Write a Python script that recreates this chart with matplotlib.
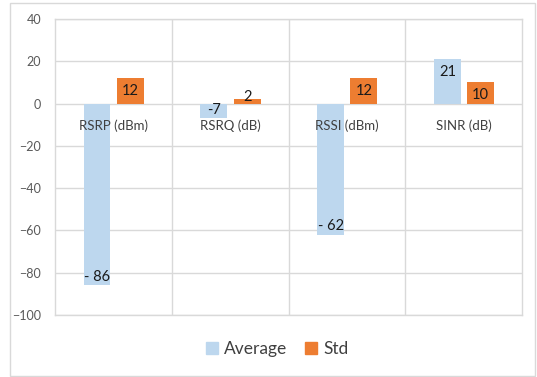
import matplotlib.pyplot as plt
from matplotlib.patches import Rectangle, Patch
import numpy as np

plt.rcParams['font.family'] = ['Lato', 'DejaVu Sans']

# data
categories = ['RSRP (dBm)', 'RSRQ (dB)', 'RSSI (dBm)', 'SINR (dB)']
average = [-86, -7, -62, 21]
std = [12, 2, 12, 10]
average_labels = ['- 86', '-7', '- 62', '21']
std_labels = ['12', '2', '12', '10']

blue = '#BDD7EE'
orange = '#ED7D31'
grid_c = '#D9D9D9'

fig = plt.figure(figsize=(5.37, 3.77), dpi=100)
ax = fig.add_axes([0.1024, 0.1645, 0.870, 0.785])

# outer chart frame
fig.patches.append(Rectangle((0.0186, 0.003), 0.977, 0.989, transform=fig.transFigure,
                             fill=False, edgecolor='#D9D9D9', linewidth=1))

x = np.arange(len(categories))
w = 0.23
ax.bar(x - 0.14, average, w, color=blue, zorder=2)
ax.bar(x + 0.145, std, w, color=orange, zorder=2)

ax.set_xlim(-0.5, 3.5)
ax.set_ylim(-100, 40)
ax.set_yticks(np.arange(-100, 41, 20))
ax.set_xticks([])
ax.set_xticks(x[:-1] + 0.5, minor=True)
ax.grid(axis='y', color=grid_c, linewidth=1, zorder=0)
ax.grid(axis='x', which='minor', color=grid_c, linewidth=1, zorder=0)
ax.tick_params(axis='y', length=0, pad=10, labelsize=9, labelcolor='#595959')
ax.tick_params(axis='x', which='both', length=0)
for s in ax.spines.values():
    s.set_color(grid_c)
    s.set_linewidth(1)

# category names just under the zero line
for i, name in enumerate(categories):
    ax.annotate(name, (i, 0), xytext=(0, -16), textcoords='offset points',
                ha='center', va='center', fontsize=9.5, color='#404040')

# value labels, inside end of each bar
def put_label(xpos, v, text):
    if abs(v) < 5 and v > 0:
        ax.annotate(text, (xpos, v), xytext=(0, -3), textcoords='offset points',
                    ha='center', va='bottom', fontsize=10.5, color='#1a1a1a', zorder=3)
    elif v >= 0:
        ax.annotate(text, (xpos, v), xytext=(0, -4), textcoords='offset points',
                    ha='center', va='top', fontsize=10.5, color='#1a1a1a', zorder=3)
    else:
        ax.annotate(text, (xpos, v), xytext=(0, 1), textcoords='offset points',
                    ha='center', va='bottom', fontsize=10.5, color='#1a1a1a', zorder=3)

for i in range(len(categories)):
    put_label(x[i] - 0.14, average[i], average_labels[i])
    put_label(x[i] + 0.145, std[i], std_labels[i])

handles = [Patch(color=blue, label='Average'), Patch(color=orange, label='Std')]
fig.legend(handles=handles, loc='center', bbox_to_anchor=(0.516, 0.074), ncol=2,
           frameon=False, fontsize=12.5, handlelength=0.7, handleheight=0.7,
           handletextpad=0.35, columnspacing=1.0, labelcolor='#404040')

fig.savefig('out.png', dpi=100)
